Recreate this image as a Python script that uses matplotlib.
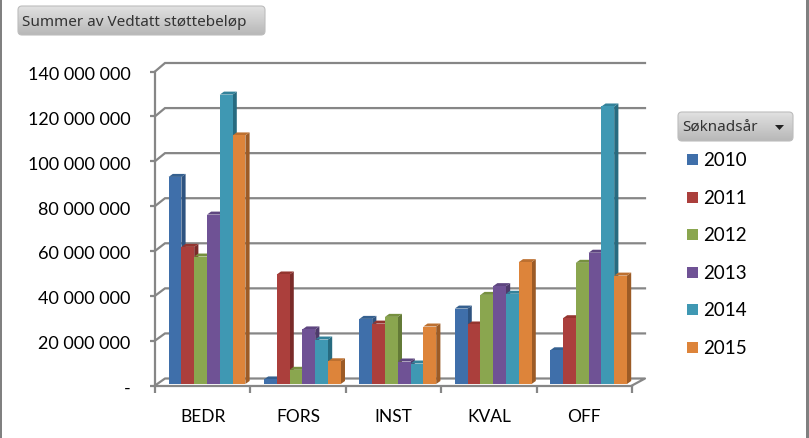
import matplotlib
matplotlib.use('Agg')
import matplotlib.pyplot as plt
import numpy as np
from matplotlib.patches import FancyBboxPatch, Polygon, Rectangle
from matplotlib.transforms import ScaledTranslation

# values in kroner
categories = ['BEDR', 'FORS', 'INST', 'KVAL', 'OFF']
years = ['2010', '2011', '2012', '2013', '2014', '2015']
v2010 = [93e6, 2.7e6, 29.7e6, 34.3e6, 15.7e6]
v2011 = [61.8e6, 49.5e6, 27.6e6, 27.2e6, 30e6]
v2012 = [57.5e6, 7e6, 30.6e6, 40.4e6, 54.7e6]
v2013 = [76.2e6, 25e6, 10.7e6, 44.3e6, 59.2e6]
v2014 = [129.7e6, 20.5e6, 9.8e6, 40.9e6, 124.4e6]
v2015 = [111.5e6, 10.8e6, 26.3e6, 55e6, 49e6]
series = [v2010, v2011, v2012, v2013, v2014, v2015]

front = ['#3F6FAA', '#AB3F3C', '#8AA64F', '#6F5295', '#3F98B3', '#DD843A']
side = ['#2E5380', '#7A2B29', '#637A37', '#4E3A6B', '#276B80', '#9C5B26']
top = ['#35608F', '#94352F', '#76903F', '#5E4680', '#33829A', '#BD7030']
GRID = '#868686'
W, H = 809, 439

fig = plt.figure(figsize=(W / 100, H / 100), dpi=100)
plt.rcParams['font.family'] = ['Lato', 'DejaVu Sans']

ax = fig.add_axes([155 / W, (H - 386.5) / H, 477 / W, 314 / H])
ax.set_xlim(0, 5)
ax.set_ylim(0, 140e6)
ax.patch.set_alpha(0)
px_x = 5 / 477
px_y = 140e6 / 314

# back wall gridlines, slanted at the left end
back_x = 10 * px_x
back_r = 5 + 13 * px_x
for val in np.arange(20e6, 141e6, 20e6):
    back_y = (7 + 1.5 * val / 140e6) * px_y
    ax.plot([0, back_x, back_r], [val, val + back_y, val + back_y], color=GRID, lw=1.6,
            clip_on=False, zorder=1, solid_joinstyle='miter')
ax.plot([0, back_x, back_r, 5], [0, 7 * px_y, 7 * px_y, 0], color=GRID, lw=1.6, clip_on=False, zorder=1)

# fake 3d bars
bar_w = 12.8 * px_x
depth_x = 4.2 * px_x
depth_y = 3 * px_y
base = 1.5 * px_y
shift = 0.045
for c in range(len(categories)):
    for s in range(len(series)):
        val = series[s][c]
        x0 = c + 0.5 + shift + (s - 3) * bar_w
        x1 = x0 + bar_w
        ax.add_patch(Polygon([(x1, base), (x1 + depth_x, base + depth_y), (x1 + depth_x, val + depth_y), (x1, val)],
                             fc=side[s], ec='none', clip_on=False, zorder=3))
        ax.add_patch(Polygon([(x0, val), (x0 + depth_x, val + depth_y), (x1 + depth_x, val + depth_y), (x1, val)],
                             fc=top[s], ec='none', clip_on=False, zorder=3))
        ax.bar(x0, val - base, bottom=base, width=bar_w, align='edge', color=front[s], clip_on=False, zorder=3)

for name in ['top', 'right']:
    ax.spines[name].set_visible(False)
for name in ['left', 'bottom']:
    ax.spines[name].set_color(GRID)
    ax.spines[name].set_linewidth(1.6)
    ax.spines[name].set_zorder(2)

ax.set_yticks(np.arange(0, 141e6, 20e6))
ax.set_yticklabels(['-'] + ['%d 000 000' % v for v in range(20, 141, 20)], fontsize=13, color='black')
ax.tick_params(axis='y', length=5 * 0.72, width=1.6, color=GRID, pad=14)
# labels sit a little below their ticks in the original
for lab in ax.get_yticklabels():
    lab.set_transform(lab.get_transform() + ScaledTranslation(0, -1 / 100, fig.dpi_scale_trans))
ax.set_xticks(range(6))
ax.set_xticklabels([])
ax.tick_params(axis='x', length=7 * 0.72, width=1.6, color=GRID)
ax.set_xticks(np.arange(5) + 0.5, minor=True)
ax.set_xticklabels(categories, minor=True, fontsize=12.5, color='black')
ax.tick_params(axis='x', which='minor', length=0, pad=16)

# overlay in pixel coordinates for frame, field buttons and legend
deco = fig.add_axes([0, 0, 1, 1], zorder=5)
deco.set_xlim(0, W)
deco.set_ylim(H, 0)
deco.axis('off')
deco.patch.set_alpha(0)
deco.add_patch(Rectangle((0, 0), 2.5, H, fc='#808080', ec='none'))
deco.add_patch(Rectangle((806.5, 0), 2.5, H, fc='#808080', ec='none'))


def button(x0, y0, x1, y1):
    box = FancyBboxPatch((x0 + 3, y0 + 3), x1 - x0 - 6, y1 - y0 - 6, boxstyle='round,pad=3,rounding_size=4',
                         fc='none', ec='#BDBDBD', lw=0.8, zorder=2)
    deco.add_patch(box)
    grad = np.linspace(0.88, 0.72, 40).reshape(-1, 1)
    img = deco.imshow(grad, cmap='gray', vmin=0, vmax=1, extent=(x0, x1, y1, y0), aspect='auto', zorder=1)
    img.set_clip_path(box)


button(18, 7, 265, 36)
button(678, 113, 793, 142)
deco.set_xlim(0, W)
deco.set_ylim(H, 0)
deco.text(22, 22.5, 'Summer av Vedtatt støttebeløp', fontsize=11, family='Noto Sans', color='#333333',
          va='center', zorder=3)
deco.text(682, 128.5, 'Søknadsår', fontsize=11, family='Noto Sans', color='#333333', va='center', zorder=3)
deco.add_patch(Polygon([(775, 126), (784, 126), (779.5, 131)], fc='#222222', ec='none', zorder=3))

legend_y = [160.5, 198.5, 235.5, 273.5, 310.5, 348.5]
for s in range(len(years)):
    deco.add_patch(Rectangle((687, legend_y[s] - 5.5), 11, 11, fc=front[s], ec='none'))
    deco.text(703, legend_y[s], years[s], fontsize=13.5, color='black', va='center')

fig.savefig('out.png', dpi=100)
